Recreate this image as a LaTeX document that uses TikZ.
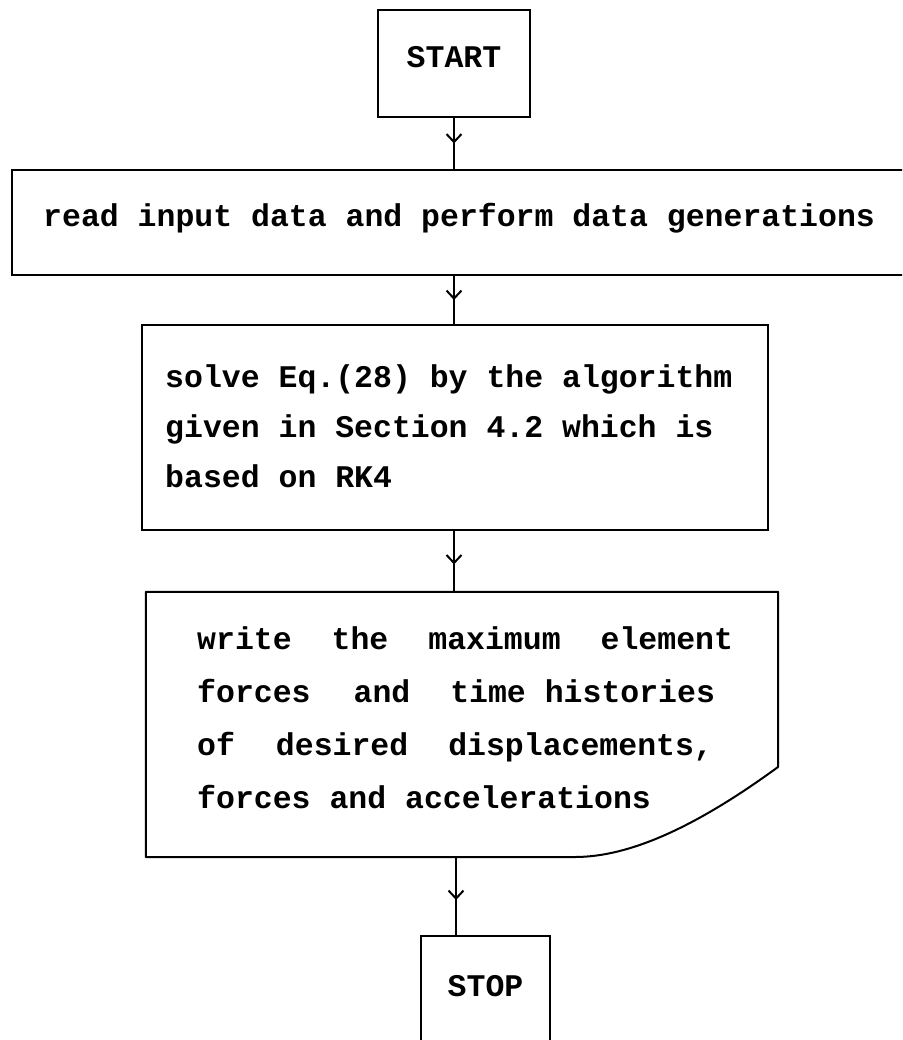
\documentclass[tikz,border=0pt]{standalone}
\usepackage{fontspec}
\newfontfamily\cour{Liberation Mono}
\usetikzlibrary{arrows.meta,decorations.markings}
\tikzset{
  box/.style={draw, line width=2pt, rectangle, inner sep=0pt},
  txt/.style={font=\cour\bfseries\fontsize{31.5}{50}\selectfont, inner sep=0pt, anchor=base west, align=left},
  flow/.style={line width=2pt, postaction={decorate}, decoration={markings,
     mark=at position #1 with {\arrow{Straight Barb[length=8pt,width=15pt,line width=2pt]}}}},
  flow/.default=0.55
}
\begin{document}
\begin{tikzpicture}[x=1pt,y=-1pt]
\clip (0,0) rectangle (902,1040);
\fill[white] (0,0) rectangle (902,1040);
% boxes
\node[box, minimum width=152pt, minimum height=107pt] (start) at (454,63.5) {};
\node[box, minimum width=898pt, minimum height=105pt] (read) at (461,222.5) {};
\node[box, minimum width=626pt, minimum height=205pt] (solve) at (455,427.5) {};
\node[minimum width=632pt, minimum height=265pt, inner sep=0pt] (write) at (462,724.5) {};
\node[box, minimum width=129pt, minimum height=170pt] (stop) at (485.5,1021) {};
% document shape
\draw[line width=2pt, line join=round] (write.north west) -- (write.north east) -- (778,767)
  .. controls (700,824) and (632,857) .. (575,857) -- (write.south west) -- cycle;
% texts
\node[txt, anchor=base] (tstart) at (454,68) {START};
\node[txt] (tread) at (43,227) {read input data and perform data generations};
\node[txt] (tsolve) at (165,487) {solve Eq.(28) by the algorithm\\given in Section 4.2 which is\\based on RK4};
\node[txt, font=\cour\bfseries\fontsize{31.5}{52.7}\selectfont] (twrite) at (197,808) {write\hspace{40pt}the\hspace{40pt}maximum\hspace{40pt}element\\
forces\hspace{43pt}and\hspace{40pt}time histories\\
of\hspace{41pt}desired\hspace{40pt}displacements,\\
forces and accelerations};
\node[txt, anchor=base] (tstop) at (485.5,996) {STOP};
% connectors
\draw[flow=0.5] (start.south) -- (start.south |- read.north);
\draw[flow=0.5] (read.south -| start.south) -- (solve.north -| start.south);
\draw[flow=0.55] (solve.south -| start.south) -- (write.north -| start.south);
\draw[flow=0.55] (write.south -| 456,0) -- (stop.north -| 456,0);
\end{tikzpicture}
\end{document}
